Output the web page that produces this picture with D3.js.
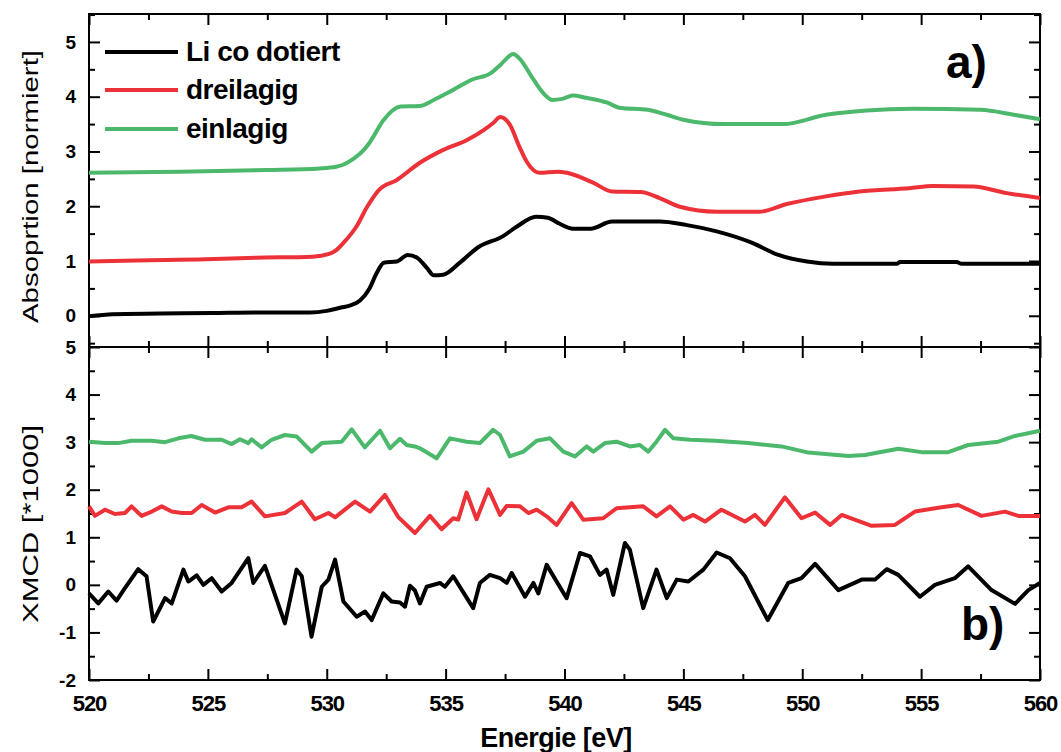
<!DOCTYPE html>
<html><head><meta charset="utf-8">
<script src="https://cdn.jsdelivr.net/npm/d3@7"></script>
<style>
html,body{margin:0;padding:0;background:#fff;}
svg{display:block;}
text{font-family:"Liberation Sans",Arial,sans-serif;fill:#000;}
</style></head>
<body><svg id="c" width="1061" height="752"></svg>
<script>
// ---------- data ----------
const xTicks = [520, 525, 530, 535, 540, 545, 550, 555, 560];
const topTicks = [0, 1, 2, 3, 4, 5];
const botTicks = [-2, -1, 0, 1, 2, 3, 4, 5];
const seriesNames = ["Li co dotiert", "dreilagig", "einlagig"];
const seriesColors = ["#000000", "#ec3238", "#4cb86b"];

// a) absorption, [energy eV, value]
const absLi = [[520,-0.01],[521,0.03],[523,0.04],[525.2,0.05],[527,0.06],[529.3,0.06],[530,0.09],[530.6,0.15],[531,0.19],[531.4,0.28],[531.8,0.5],[532.1,0.78],[532.4,0.97],[532.95,0.99],[533.4,1.11],[533.8,1.06],[534.2,0.88],[534.5,0.74],[534.9,0.75],[535.6,0.97],[536.4,1.26],[537.4,1.45],[538.0,1.63],[538.8,1.81],[539.3,1.79],[539.8,1.68],[540.35,1.59],[541.1,1.59],[542.0,1.72],[543,1.72],[544.0,1.72],[545.1,1.66],[546.4,1.54],[547.9,1.33],[549.0,1.11],[550.2,0.99],[551.3,0.95],[554,0.95],[554.1,0.98],[556.5,0.98],[556.7,0.95],[560,0.95]];
const absDrei = [[520,0.99],[522,1.01],[524.9,1.03],[527,1.06],[529.4,1.08],[530.1,1.13],[530.4,1.2],[530.7,1.33],[531.25,1.63],[531.7,1.99],[532.2,2.30],[532.95,2.48],[533.9,2.79],[534.9,3.03],[535.9,3.21],[536.6,3.39],[537.0,3.52],[537.3,3.63],[537.7,3.49],[538.1,3.09],[538.4,2.82],[538.95,2.61],[539.7,2.63],[540.1,2.61],[541.2,2.43],[542.0,2.27],[543.2,2.26],[544.0,2.15],[544.85,1.99],[546.4,1.90],[548.2,1.90],[549.35,2.04],[551.0,2.18],[552.4,2.27],[554.5,2.33],[555.5,2.37],[557.2,2.36],[558.6,2.24],[560,2.15]];
const absEin = [[520,2.61],[523.8,2.63],[527.5,2.66],[529.7,2.69],[530.4,2.72],[530.8,2.78],[531.1,2.86],[531.5,3.0],[531.8,3.16],[532.4,3.58],[533.1,3.82],[533.9,3.83],[534.5,3.94],[535.3,4.12],[536.1,4.31],[536.9,4.43],[537.3,4.58],[537.85,4.78],[538.1,4.7],[538.7,4.31],[539.1,4.07],[539.5,3.94],[539.9,3.96],[540.35,4.02],[540.9,3.98],[541.8,3.89],[542.3,3.8],[543.5,3.76],[544.3,3.67],[545,3.58],[546.7,3.50],[549.2,3.50],[551.0,3.67],[552.7,3.75],[554.65,3.78],[557.5,3.76],[558.9,3.67],[560,3.59]];

// b) XMCD (*1000), [energy eV, value]
const xmcdLi = [[520,-0.18],[520.39,-0.39],[520.81,-0.14],[521.16,-0.33],[521.51,-0.07],[522.07,0.33],[522.42,0.18],[522.7,-0.77],[523.2,-0.28],[523.48,-0.39],[523.97,0.32],[524.18,0.07],[524.53,0.20],[524.81,0.0],[525.16,0.14],[525.58,-0.14],[526.0,0.04],[526.7,0.56],[526.91,0.04],[527.4,0.40],[528.24,-0.81],[528.73,0.32],[528.95,0.18],[529.36,-1.09],[529.79,-0.04],[530.07,0.11],[530.35,0.53],[530.7,-0.35],[531.26,-0.67],[531.61,-0.56],[531.89,-0.74],[532.38,-0.18],[532.73,-0.35],[533.08,-0.37],[533.29,-0.46],[533.5,-0.02],[533.71,-0.12],[533.92,-0.39],[534.2,-0.04],[534.76,0.04],[534.97,-0.04],[535.32,0.18],[536.16,-0.49],[536.44,0.04],[536.86,0.21],[537.29,0.14],[537.57,0.04],[537.78,0.25],[538.34,-0.25],[538.69,0.04],[538.9,-0.18],[539.25,0.42],[540.09,-0.28],[540.65,0.67],[541.07,0.60],[541.49,0.21],[541.77,0.32],[542.05,-0.21],[542.54,0.88],[542.75,0.74],[543.31,-0.49],[543.87,0.32],[544.3,-0.28],[544.72,0.11],[545.21,0.07],[545.84,0.32],[546.4,0.68],[546.96,0.56],[547.59,0.18],[548.55,-0.74],[549.41,0.04],[549.97,0.14],[550.54,0.44],[551.52,-0.11],[552.5,0.11],[553.06,0.11],[553.55,0.33],[554.04,0.21],[554.95,-0.25],[555.58,0.0],[556.42,0.14],[556.98,0.39],[557.96,-0.11],[558.95,-0.40],[559.51,-0.11],[560,0.04]];
const xmcdDrei = [[520,1.65],[520.25,1.45],[520.67,1.58],[521.09,1.49],[521.51,1.51],[521.79,1.65],[522.21,1.45],[522.64,1.54],[523.06,1.65],[523.48,1.54],[523.9,1.51],[524.32,1.51],[524.74,1.68],[525.3,1.52],[525.86,1.63],[526.42,1.63],[526.84,1.75],[527.4,1.44],[528.24,1.51],[528.95,1.75],[529.5,1.38],[530.07,1.51],[530.35,1.42],[531.19,1.75],[531.82,1.54],[532.45,1.89],[533.0,1.43],[533.71,1.09],[534.34,1.45],[534.83,1.17],[535.32,1.40],[535.53,1.37],[535.88,1.94],[536.3,1.38],[536.8,2.01],[537.29,1.47],[537.57,1.66],[538.13,1.65],[538.48,1.51],[538.83,1.58],[539.25,1.44],[539.67,1.26],[540.3,1.72],[540.79,1.37],[541.63,1.40],[542.19,1.61],[542.75,1.63],[543.31,1.65],[543.87,1.44],[544.44,1.65],[545.0,1.37],[545.42,1.47],[545.91,1.33],[546.6,1.58],[547.59,1.33],[548.01,1.47],[548.43,1.26],[549.27,1.84],[549.97,1.40],[550.54,1.52],[551.17,1.26],[551.66,1.47],[552.92,1.24],[553.9,1.26],[554.74,1.54],[555.86,1.63],[556.56,1.68],[557.54,1.45],[558.53,1.54],[559.09,1.45],[560,1.45]];
const xmcdEin = [[520,3.01],[520.67,2.98],[521.23,2.98],[521.79,3.03],[522.64,3.03],[523.2,3.0],[523.76,3.08],[524.3,3.13],[524.88,3.05],[525.58,3.05],[526.0,2.96],[526.35,3.06],[526.7,2.98],[526.84,3.06],[527.26,2.89],[527.68,3.05],[528.24,3.15],[528.73,3.12],[529.36,2.80],[529.79,2.98],[530.63,3.01],[531.05,3.27],[531.6,2.89],[532.24,3.24],[532.66,2.87],[533.08,3.07],[533.36,2.94],[533.7,2.91],[533.92,2.87],[534.62,2.66],[535.18,3.08],[535.88,3.01],[536.44,2.98],[537.0,3.26],[537.29,3.15],[537.7,2.70],[538.27,2.80],[538.83,3.03],[539.39,3.08],[539.95,2.80],[540.44,2.70],[540.93,2.91],[541.21,2.80],[541.7,2.98],[542.19,3.01],[542.75,2.91],[543.17,2.94],[543.52,2.80],[543.87,3.01],[544.23,3.26],[544.58,3.08],[545.28,3.05],[546.33,3.03],[547.73,2.98],[549.13,2.91],[550.26,2.78],[551.94,2.71],[552.64,2.73],[554.04,2.86],[555.02,2.79],[556.14,2.79],[556.98,2.94],[558.25,3.01],[558.95,3.13],[560,3.24]];

// ---------- drawing ----------
const svg = d3.select("#c");
svg.append("rect").attr("width",1061).attr("height",752).attr("fill","#fff");

const L = 89, R = 1040, T1 = 14, M = 347, B2 = 680;
const x = d3.scaleLinear().domain([520,560]).range([L,R]);
const yTop = d3.scaleLinear().domain([-0.57,5.51]).range([M,T1]);
const yBot = d3.scaleLinear().domain([-2,5]).range([B2,M]);

const xMinor = d3.range(522.5,560,5);
const topMinor = d3.range(-0.5,5.51,1);
const botMinor = d3.range(-1.5,5,1);
const fmt = d => String(d); // plain hyphen minus like the original

function styleAxis(g){
  g.select(".domain").remove();
  g.selectAll(".tick line").attr("stroke","#000").attr("stroke-width",2);
}
function axes(y, T, Bm, ticks, minor, labelX){
  svg.append("g").attr("transform",`translate(${L},0)`)
    .call(d3.axisLeft(y).tickValues(ticks).tickSizeInner(-11).tickSizeOuter(0).tickPadding(13).tickFormat(fmt))
    .call(styleAxis)
    .call(g=>g.selectAll("text").attr("font-size",19).attr("font-weight","bold").attr("font-family","Liberation Sans, Arial, sans-serif"));
  svg.append("g").attr("transform",`translate(${L},0)`)
    .call(d3.axisLeft(y).tickValues(minor).tickSizeInner(-6).tickSizeOuter(0).tickFormat(""))
    .call(styleAxis);
  svg.append("g").attr("transform",`translate(${R},0)`)
    .call(d3.axisRight(y).tickValues(ticks).tickSizeInner(-11).tickSizeOuter(0).tickFormat(""))
    .call(styleAxis);
  svg.append("g").attr("transform",`translate(${R},0)`)
    .call(d3.axisRight(y).tickValues(minor).tickSizeInner(-6).tickSizeOuter(0).tickFormat(""))
    .call(styleAxis);
  svg.append("g").attr("transform",`translate(0,${T})`)
    .call(d3.axisTop(x).tickValues(xTicks).tickSizeInner(-11).tickSizeOuter(0).tickFormat(""))
    .call(styleAxis);
  svg.append("g").attr("transform",`translate(0,${T})`)
    .call(d3.axisTop(x).tickValues(xMinor).tickSizeInner(-6).tickSizeOuter(0).tickFormat(""))
    .call(styleAxis);
  const bx = svg.append("g").attr("transform",`translate(0,${Bm})`)
    .call(d3.axisBottom(x).tickValues(xTicks).tickSizeInner(-11).tickSizeOuter(0).tickPadding(15)
      .tickFormat(labelX ? fmt : ""))
    .call(styleAxis);
  if (labelX) bx.selectAll("text").attr("font-size",22).attr("font-weight","bold").attr("letter-spacing","-1px")
      .attr("font-family","Liberation Sans, Arial, sans-serif");
  svg.append("g").attr("transform",`translate(0,${Bm})`)
    .call(d3.axisBottom(x).tickValues(xMinor).tickSizeInner(-6).tickSizeOuter(0).tickFormat(""))
    .call(styleAxis);
  svg.append("rect").attr("x",L).attr("y",T).attr("width",R-L).attr("height",Bm-T)
    .attr("fill","none").attr("stroke","#000").attr("stroke-width",2);
}
axes(yTop, T1, M, topTicks, topMinor, false);
axes(yBot, M, B2, botTicks, botMinor, true);

function draw(data, y, color, curve){
  svg.append("path").datum(data)
    .attr("fill","none").attr("stroke",color).attr("stroke-width",4)
    .attr("stroke-linejoin","round").attr("stroke-linecap","butt")
    .attr("d", d3.line().curve(curve).x(d=>x(d[0])).y(d=>y(d[1])));
}
[absLi, absDrei, absEin].forEach((s,i)=>draw(s, yTop, seriesColors[i], d3.curveMonotoneX));
[xmcdLi, xmcdDrei, xmcdEin].forEach((s,i)=>draw(s, yBot, seriesColors[i], d3.curveLinear));

// legend
const legY = [52, 90, 129];
seriesNames.forEach((n,i)=>{
  svg.append("line").attr("x1",105).attr("x2",178).attr("y1",legY[i]).attr("y2",legY[i])
    .attr("stroke",seriesColors[i]).attr("stroke-width",4);
  svg.append("text").attr("x",186).attr("y",legY[i]+9).attr("font-size",28).attr("font-weight","bold")
    .attr("letter-spacing","-0.5px").text(n);
});

// panel labels
svg.append("text").attr("x",946).attr("y",78).attr("font-size",46).attr("font-weight","bold").text("a)");
svg.append("text").attr("x",961).attr("y",640).attr("font-size",46).attr("font-weight","bold").text("b)");

// axis titles
svg.append("text").attr("x",556).attr("y",747).attr("text-anchor","middle")
  .attr("font-size",27).attr("font-weight","bold").attr("letter-spacing","-0.5px").text("Energie [eV]");
svg.append("text").attr("transform","translate(38,186.5) rotate(-90)").attr("text-anchor","middle")
  .attr("font-size",22).attr("textLength",273).attr("lengthAdjust","spacingAndGlyphs").text("Absoprtion [normiert]");
svg.append("text").attr("transform","translate(38,524) rotate(-90)").attr("text-anchor","middle")
  .attr("font-size",22).attr("textLength",198).attr("lengthAdjust","spacingAndGlyphs").text("XMCD [*1000]");
</script>
</body></html>
